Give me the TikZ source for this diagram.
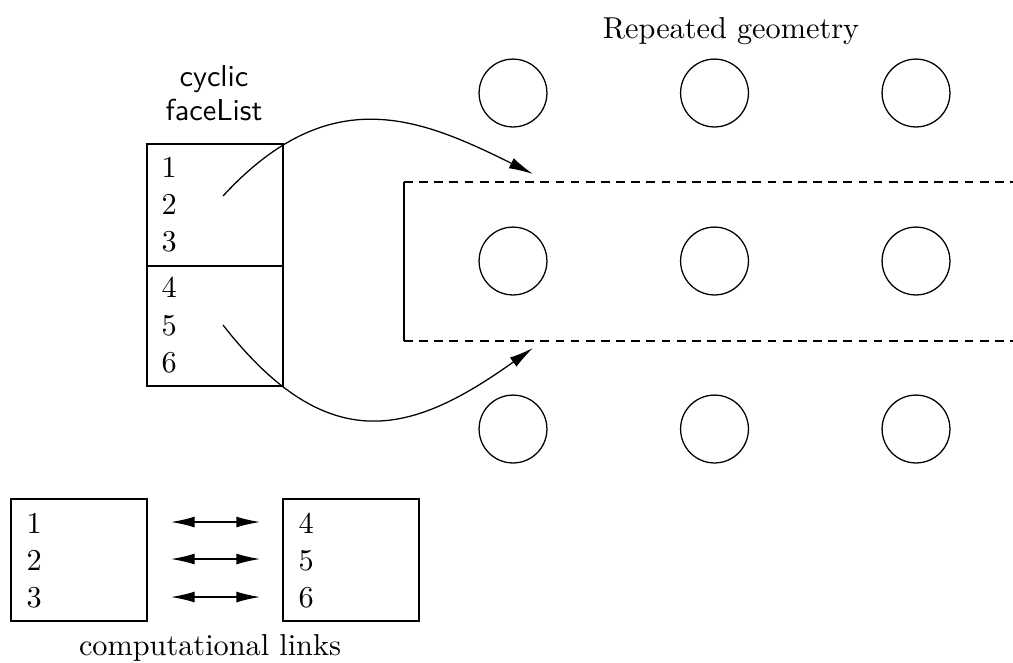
\documentclass[tikz,border=0pt]{standalone}
\usetikzlibrary{arrows.meta}
\begin{document}
\begin{tikzpicture}[x=0.33pt,y=-0.33pt,
  line width=0.42pt,
  box/.style={draw, rectangle, inner sep=0pt, minimum width=44.88pt},
  num/.style={anchor=base west, inner sep=0pt},
  lbl/.style={anchor=base, inner sep=0pt},
  geo/.style={draw, circle, minimum size=22.4pt, inner sep=0pt},
  tipA/.style={-{Latex[length=8pt,width=3.7pt]}},
  dbl/.style={{Latex[length=7.8pt,width=3.6pt]}-{Latex[length=7.8pt,width=3.6pt]}},
  dashline/.style={dash pattern=on 2.9pt off 2.1pt}
]
\useasboundingbox (0,0) rectangle (1013,662);

% title
\node[lbl] (title) at (731,38) {Repeated geometry};

% circles
\foreach \r/\y in {1/93,2/261,3/429}{
  \foreach \c/\x in {1/513,2/714.5,3/916}{
    \node[geo] (g\r\c) at (\x,\y) {};
  }
}

% dashed open region
\coordinate (dTL) at (404,182);
\coordinate (dBL) at (404,341);
\coordinate (dTR) at (1013,182);
\coordinate (dBR) at (1013,341);
\draw (dTL) -- (dBL);
\draw[dashline] (dTL) -- (dTR);
\draw[dashline] (dBL) -- (dBR);

% cyclic faceList
\node[lbl, font=\sffamily] (cyc) at (214,86) {cyclic};
\node[lbl, font=\sffamily] (fl) at (214,120) {faceList};
\node[box, minimum height=40.26pt] (upper) at (215,205) {};
\node[box, minimum height=39.6pt] (lower) at (215,326) {};
\node[num] (n1) at (161,177) {1};
\node[num] (n2) at (161,214) {2};
\node[num] (n3) at (161,251) {3};
\node[num] (n4) at (161,297) {4};
\node[num] (n5) at (161,335) {5};
\node[num] (n6) at (161,372) {6};

% curved arrows
\coordinate (s1) at (223,196);
\coordinate (e1) at (533,174);
\coordinate (s2) at (223,325);
\coordinate (e2) at (533,348);
\draw[tipA] (s1) .. controls (330,80) and (420,118) .. (e1);
\draw[tipA] (s2) .. controls (330,462) and (415,432) .. (e2);

% computational links
\node[box, minimum height=40.26pt] (lbox) at (79,560) {};
\node[box, minimum height=40.26pt] (rbox) at (351,560) {};
\node[num] (b1) at (26,533) {1};
\node[num] (b2) at (26,570) {2};
\node[num] (b3) at (26,607) {3};
\node[num] (b4) at (298,533) {4};
\node[num] (b5) at (298,570) {5};
\node[num] (b6) at (298,607) {6};
\coordinate (la1) at (171,522);
\coordinate (ra1) at (260,522);
\coordinate (la2) at (171,559);
\coordinate (ra2) at (260,559);
\coordinate (la3) at (171,597);
\coordinate (ra3) at (260,597);
\draw[dbl] (la1) -- (ra1);
\draw[dbl] (la2) -- (ra2);
\draw[dbl] (la3) -- (ra3);
\node[lbl] (cl) at (210,655) {computational links};
\end{tikzpicture}
\end{document}
